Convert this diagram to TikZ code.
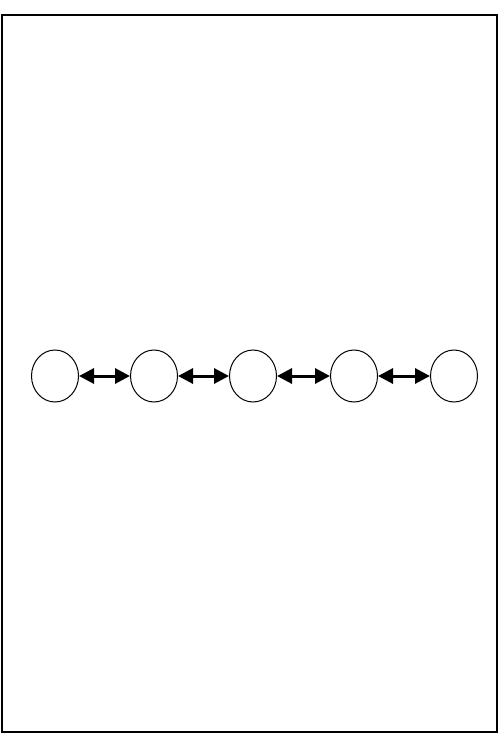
\documentclass[tikz,border=0pt]{standalone}
\usetikzlibrary{arrows.meta,shapes.geometric}
\begin{document}
\begin{tikzpicture}[x=1pt,y=-1pt,
  cell/.style={draw=black,ellipse,line width=1pt,minimum width=47pt,minimum height=52pt,inner sep=0pt},
  link/.style={line width=3pt,{Triangle[length=15pt,width=15pt]}-{Triangle[length=15pt,width=15pt]}}]
\useasboundingbox (0,0) rectangle (499,735);
\draw[line width=2pt] (1.5,15) rectangle (497,732);
\node[cell] (c1) at (55,376) {};
\node[cell] (c2) at (154,376) {};
\node[cell] (c3) at (253,376) {};
\node[cell] (c4) at (354,376) {};
\node[cell] (c5) at (454,376) {};
\draw[link] (c1) -- (c2);
\draw[link] (c2) -- (c3);
\draw[link] (c3) -- (c4);
\draw[link] (c4) -- (c5);
\end{tikzpicture}
\end{document}
